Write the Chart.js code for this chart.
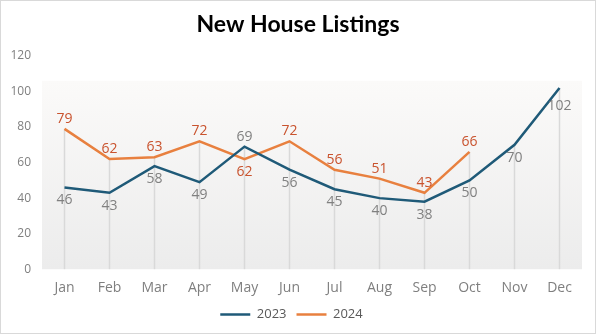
<!DOCTYPE html>
<html>
<head>
<meta charset="utf-8">
<script src="https://cdn.jsdelivr.net/npm/chart.js@4"></script>
<style>
  html, body { margin: 0; padding: 0; background: #fff; }
  #wrap { width: 594px; height: 332px; border: 1px solid #d9d9d9; }
</style>
</head>
<body>
<div id="wrap"><canvas id="listingsChart" width="594" height="332"></canvas></div>
<script>
// chart data
const chartTitle = 'New House Listings';
const months = ['Jan', 'Feb', 'Mar', 'Apr', 'May', 'Jun', 'Jul', 'Aug', 'Sep', 'Oct', 'Nov', 'Dec'];
const listings2023 = [46, 43, 58, 49, 69, 56, 45, 40, 38, 50, 70, 102];
const listings2024 = [79, 62, 63, 72, 62, 72, 56, 51, 43, 66, null, null];

// where each value label goes relative to its point
const labelSide2023 = ['below', 'below', 'below', 'below', 'above', 'below', 'below', 'below', 'below', 'below', 'below', 'below'];
const labelSide2024 = ['above', 'above', 'above', 'above', 'below', 'above', 'above', 'above', 'above', 'above', 'above', 'above'];

// title
const titlePlugin = {
    id: 'titlePlugin',
    afterDraw(chart) {
        const { ctx } = chart;
        ctx.save();
        ctx.font = 'bold 23px Lato, sans-serif';
        ctx.fillStyle = '#000';
        ctx.textAlign = 'center';
        ctx.textBaseline = 'alphabetic';
        ctx.fillText(chartTitle, chart.width / 2, 31);
        ctx.restore();
    }
};

// gradient behind the plot
const plotBackground = {
    id: 'plotBackground',
    beforeDraw(chart) {
        const { ctx, chartArea: a } = chart;
        const top = chart.scales.y.getPixelForValue(106);
        const g = ctx.createLinearGradient(0, top, 0, a.bottom);
        g.addColorStop(0, '#fbfaf9');
        g.addColorStop(1, '#ececec');
        ctx.save();
        ctx.fillStyle = g;
        ctx.fillRect(a.left, top, a.right - a.left, a.bottom - top);
        ctx.restore();
    }
};

// vertical drop lines from the highest point down to the axis
const dropLines = {
    id: 'dropLines',
    beforeDatasetsDraw(chart) {
        const { ctx, scales } = chart;
        ctx.save();
        ctx.strokeStyle = '#d9d9d9';
        ctx.lineWidth = 1.5;
        months.forEach((m, i) => {
            const vals = chart.data.datasets.map(d => d.data[i]).filter(v => v !== null);
            if (!vals.length) return;
            const x = scales.x.getPixelForValue(i);
            ctx.beginPath();
            ctx.moveTo(x, scales.y.getPixelForValue(Math.max(...vals)));
            ctx.lineTo(x, scales.y.getPixelForValue(0));
            ctx.stroke();
        });
        ctx.restore();
    }
};

// value labels next to points
const valueLabels = {
    id: 'valueLabels',
    afterDatasetsDraw(chart) {
        const { ctx } = chart;
        ctx.save();
        ctx.font = '14px "Open Sans", sans-serif';
        ctx.textAlign = 'center';
        ctx.textBaseline = 'middle';
        chart.data.datasets.forEach((ds, di) => {
            const meta = chart.getDatasetMeta(di);
            ctx.fillStyle = ds.labelColor;
            meta.data.forEach((pt, i) => {
                const v = ds.data[i];
                if (v === null) return;
                const side = ds.labelSides[i];
                let y = side === 'above' ? pt.y - 10 : pt.y + 13;
                if (i === 11) y = pt.y + 18;
                ctx.fillText(String(v), pt.x, y);
            });
        });
        ctx.restore();
    }
};

const ctx = document.getElementById('listingsChart').getContext('2d');
new Chart(ctx, {
    type: 'line',
    data: {
        labels: months,
        datasets: [{
            label: '2023',
            data: listings2023,
            borderColor: '#1f5a78',
            backgroundColor: '#1f5a78',
            borderWidth: 2.5,
            pointRadius: 0,
            tension: 0,
            labelColor: '#808080',
            labelSides: labelSide2023
        }, {
            label: '2024',
            data: listings2024,
            borderColor: '#e8803f',
            backgroundColor: '#e8803f',
            borderWidth: 2.5,
            pointRadius: 0,
            tension: 0,
            labelColor: '#c9532e',
            labelSides: labelSide2024
        }]
    },
    options: {
        responsive: false,
        animation: false,
        layout: { padding: { left: 0, right: 13, top: 55, bottom: 2 } },
        plugins: {
            title: { display: false },
            legend: {
                position: 'bottom',
                labels: {
                    usePointStyle: true,
                    pointStyle: 'line',
                    pointStyleWidth: 30,
                    color: '#595959',
                    font: { family: '"Open Sans", sans-serif', size: 13 },
                    padding: 10
                }
            },
            tooltip: { enabled: false }
        },
        scales: {
            x: {
                offset: true,
                grid: { display: false },
                border: { display: false },
                ticks: {
                    color: '#7f7f7f',
                    font: { family: '"Open Sans", sans-serif', size: 14 },
                    padding: 2
                }
            },
            y: {
                min: 0,
                max: 120,
                grid: { display: false },
                border: { display: false },
                afterFit(scale) { scale.width = 41; },
                ticks: {
                    stepSize: 20,
                    color: '#7f7f7f',
                    font: { family: '"Open Sans", sans-serif', size: 12 },
                    padding: 3
                }
            }
        }
    },
    plugins: [plotBackground, dropLines, valueLabels, titlePlugin]
});
</script>
</body>
</html>
